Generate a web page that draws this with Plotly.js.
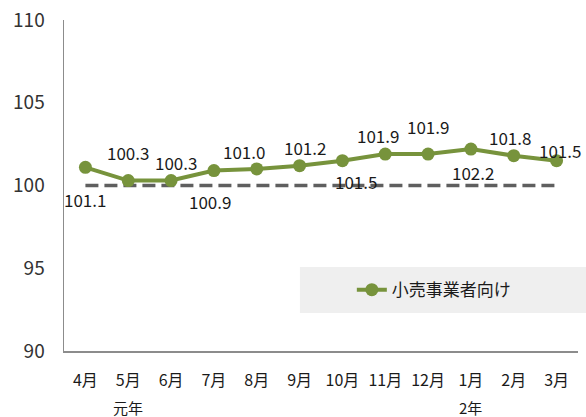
<!DOCTYPE html>
<html><head><meta charset="utf-8">
<script src="https://cdn.plot.ly/plotly-3.0.1.min.js"></script>
<style>html,body{margin:0;padding:0;background:#fff}#c{width:586px;height:417px}</style>
</head><body><div id="c"></div>
<script>
const months = ['4月','5月','6月','7月','8月','9月','10月','11月','12月','1月','2月','3月'];
const retail = [101.1,100.3,100.3,100.9,101.0,101.2,101.5,101.9,101.9,102.2,101.8,101.5];
const baseline = [100,100,100,100,100,100,100,100,100,100,100,100];
const yearLabels = ['元年','2年'];
const yearAt = ['5月','1月'];
const seriesName = '小売事業者向け';

// label offsets (style), px: [xshift, yshift]
const labelOffsets = [[0,-32],[0,28],[5,18],[-4,-31],[-13,17],[5,18],[14,-21],[-7,19],[0,28],[2,-23],[-4,18],[3,10]];

const font = '"Noto Sans CJK JP", "Noto Sans", sans-serif';
const annotations = retail.map((v,i)=>({
  x: months[i], y: v, xref:'x', yref:'y', text: v.toFixed(1), showarrow:false,
  xshift: labelOffsets[i][0], yshift: labelOffsets[i][1],
  font:{family:font,size:17,color:'#1a1a1a'}
}));
yearLabels.forEach((t,i)=>annotations.push({
  x: yearAt[i], y: 0, xref:'x', yref:'paper', yanchor:'middle', yshift:-56, borderpad:0,
  text:t, showarrow:false, font:{family:font,size:15,color:'#1a1a1a'}
}));

const data = [
  {x: months, y: baseline, type:'scatter', mode:'lines', showlegend:false, hoverinfo:'skip',
   line:{color:'#5f5f5f', width:3.5, dash:'13px,6px'}},
  {x: months, y: retail, type:'scatter', mode:'lines+markers', name: seriesName,
   line:{color:'#77933c', width:4}, marker:{color:'#77933c', size:13}}
];
const layout = {
  width:586, height:417, margin:{l:63.5,r:7.5,t:20,b:66},
  paper_bgcolor:'#fff', plot_bgcolor:'#fff',
  font:{family:font,color:'#1a1a1a'},
  xaxis:{type:'category', range:[-0.5,11.5], showgrid:false, zeroline:false,
    showline:true, linecolor:'#8c8c8c', linewidth:1.5, ticks:'',
    tickfont:{family:font,size:16,color:'#1a1a1a'}, ticklabelstandoff:14},
  yaxis:{range:[90,110], dtick:5, showgrid:false, zeroline:false,
    showline:true, linecolor:'#8c8c8c', linewidth:1.5, ticks:'',
    tickfont:{family:font,size:19,color:'#333333'}, ticklabelstandoff:14},
  shapes:[{type:'rect', xref:'paper', yref:'paper', x0:0.459, x1:1.02, y0:0.115, y1:0.254,
    fillcolor:'#efefef', line:{width:0}, layer:'below'}],
  legend:{x:0.56, y:0.184, xanchor:'left', yanchor:'middle', bgcolor:'rgba(0,0,0,0)',
    font:{family:font,size:17,color:'#1a1a1a'}},
  annotations: annotations
};
Plotly.newPlot('c', data, layout, {displayModeBar:false, staticPlot:true});
</script></body></html>
